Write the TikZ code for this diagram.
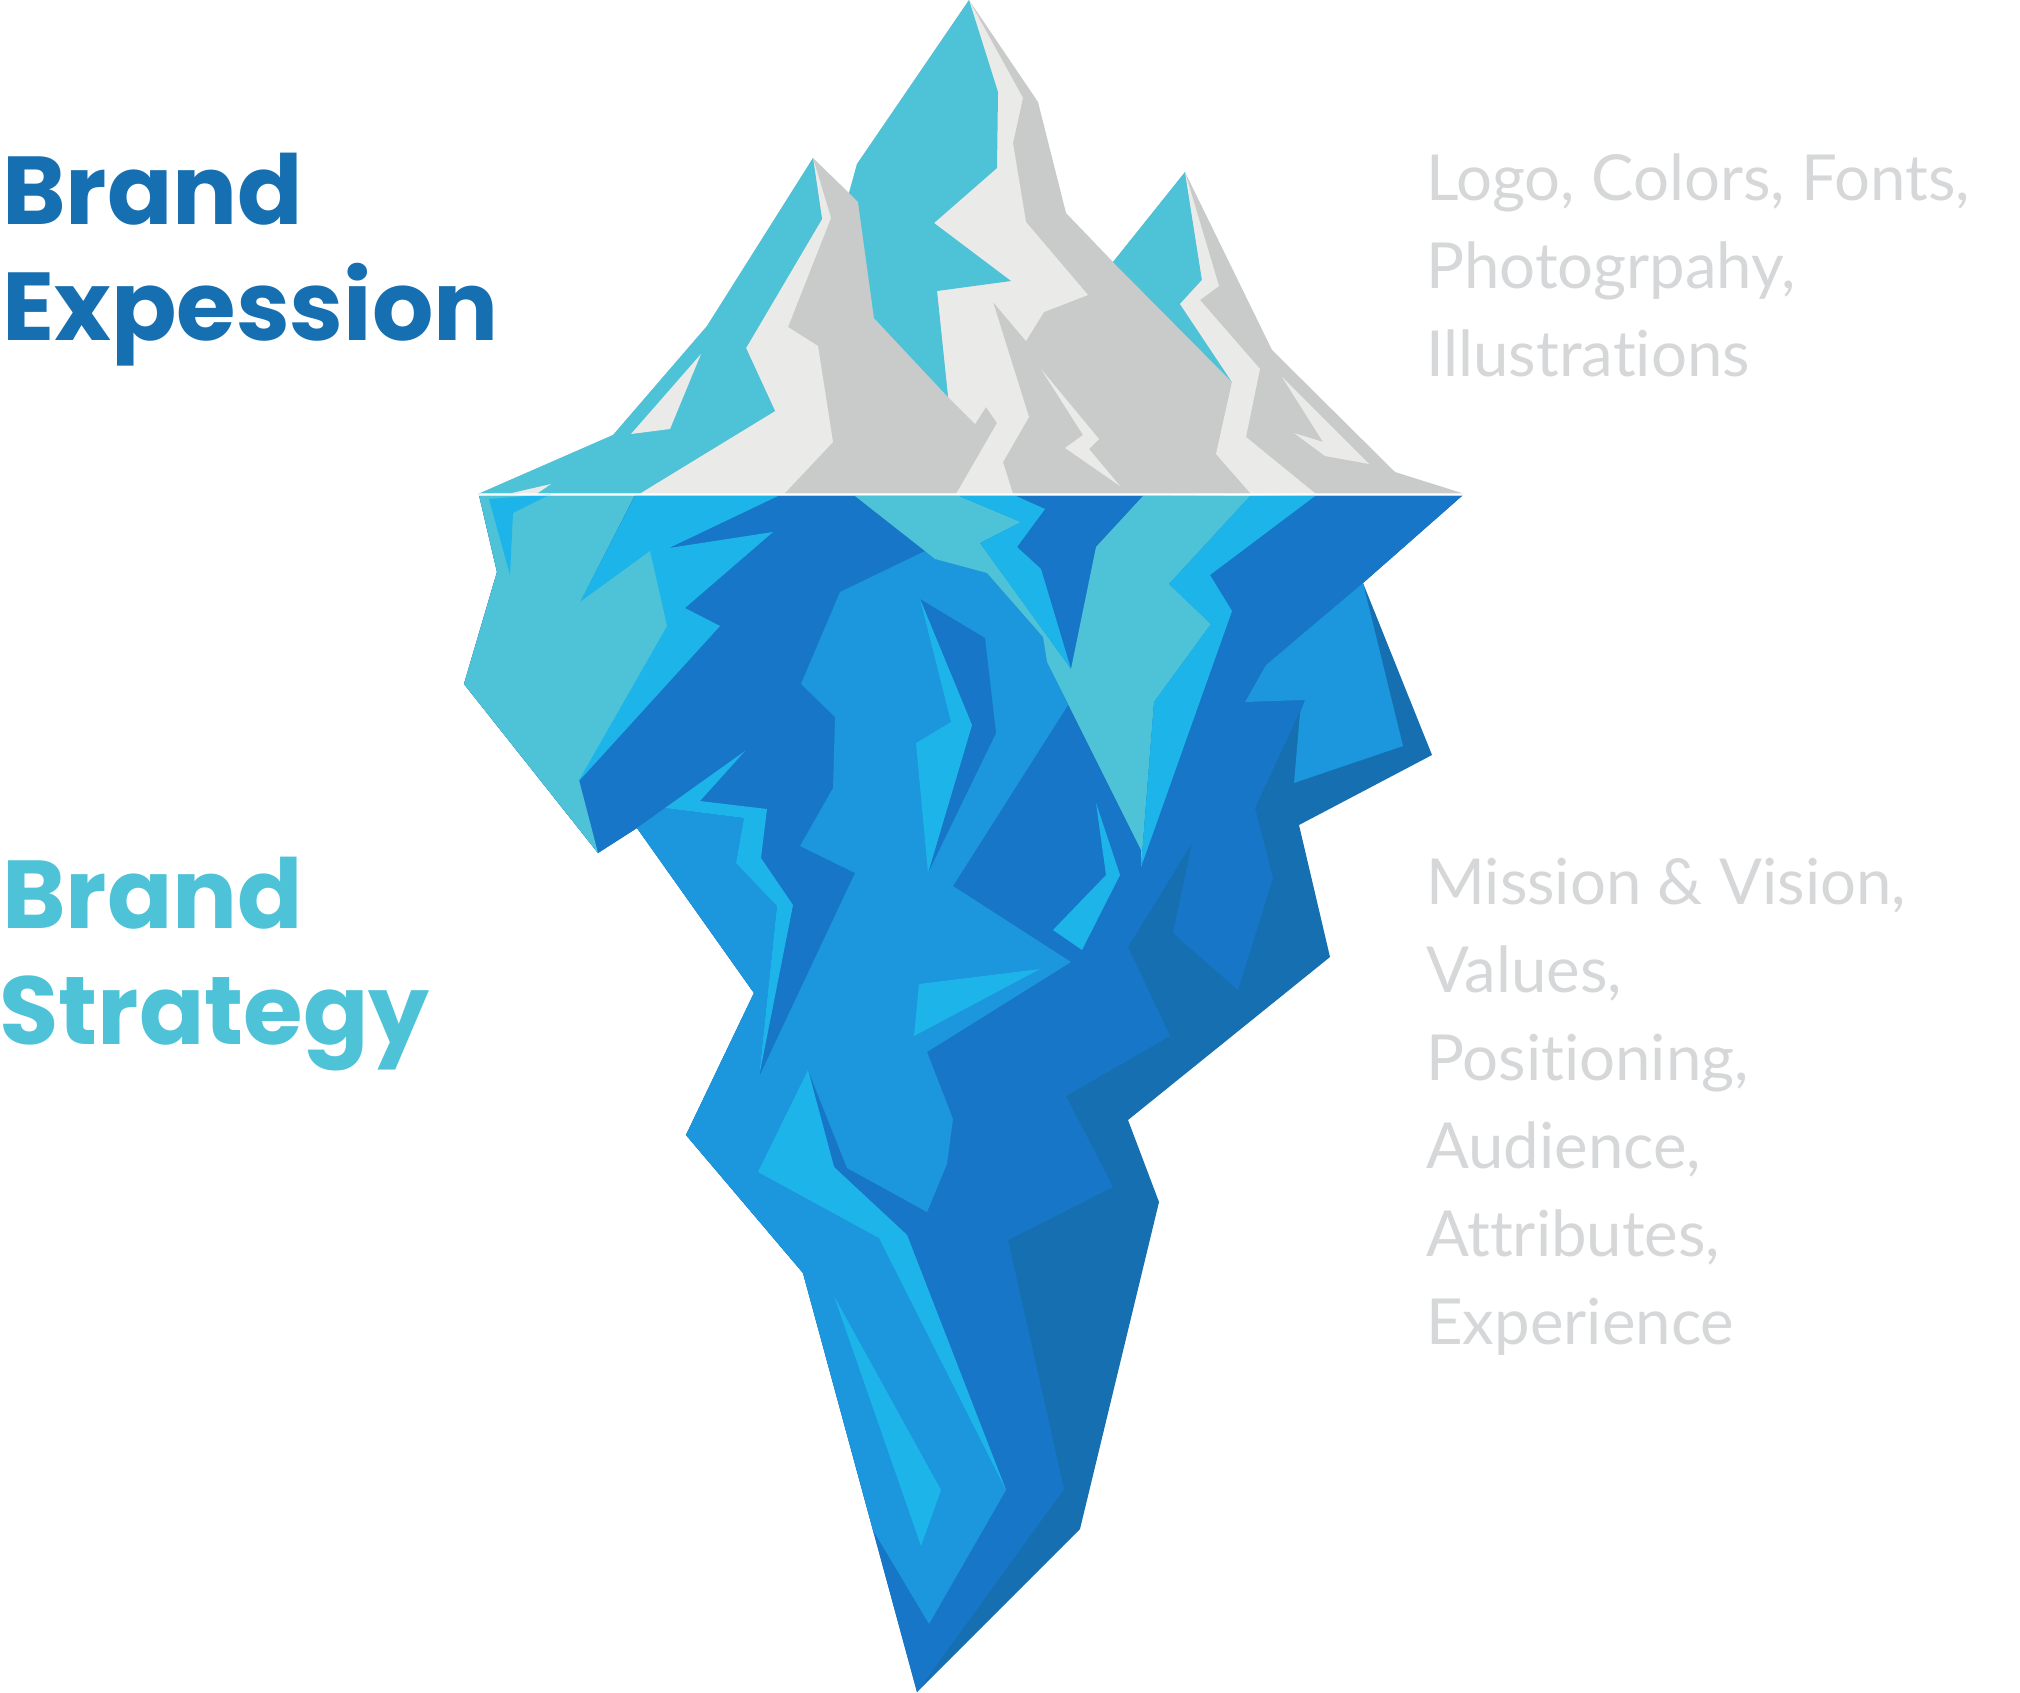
\documentclass[tikz,border=0pt]{standalone}
\usepackage{fontspec}
\setmainfont{Lato}[Ligatures=NoCommon]
\newfontfamily\headfont{Poppins Bold}
\definecolor{gr}{HTML}{C8CBCA}
\definecolor{wh}{HTML}{EAEAE8}
\definecolor{te}{HTML}{4EC3D7}
\definecolor{sh}{HTML}{166FB0}
\definecolor{ma}{HTML}{1776C7}
\definecolor{mi}{HTML}{1C96DC}
\definecolor{br}{HTML}{1DB4EA}
\definecolor{tx}{HTML}{D5D7D8}
\tikzset{
 hd/.style={anchor=base west,inner sep=0pt,font=\headfont\fontsize{96.5}{97}\selectfont},
 ld/.style={anchor=base west,inner sep=0pt,text=tx,font=\fontsize{63.5}{64}\selectfont}}
\begin{document}
\begin{tikzpicture}[x=1pt,y=-1pt]
\useasboundingbox (0,0) rectangle (2020,1692);
% above water
\fill[gr] (478,494)--(613,435)--(707,326)--(813,158)--(849,193)--(857,164)--(969,0)--(1038,102)--(1066,213)--(1113,262)--(1185,172)--(1272,350)--(1395,472)--(1465,494)--cycle;
\fill[wh] (969,0)--(1023,98)--(1013,143)--(1026,222)--(1088,295)--(1044,312)--(1026,341)--(993,302)--(1029,417)--(1003,462)--(1013,494)--(956,494)--(997,423)--(986,407)--(975,424)--(948,397)--(937,291)--(934,223)--cycle;
\fill[te] (969,0)--(998,92)--(997,168)--(934,223)--(1011,281)--(937,291)--(948,397)--(874,318)--(858,202)--(849,193)--(857,164)--cycle;
\fill[wh] (813,158)--(831,218)--(788,327)--(818,346)--(833,442)--(784,494)--(639,494)--(775,411)--(746,348)--(822,219)--cycle;
\fill[te] (478,494)--(613,435)--(707,326)--(813,158)--(822,219)--(746,348)--(775,411)--(639,494)--cycle;
\fill[wh] (701,354)--(670,429)--(631,434)--cycle;
\fill[te] (1113,262)--(1185,172)--(1202,280)--(1180,304)--(1232,382)--cycle;
\fill[wh] (1185,172)--(1219,286)--(1200,300)--(1260,369)--(1246,437)--(1316,494)--(1251,494)--(1216,454)--(1232,382)--(1180,304)--(1202,280)--cycle;
\fill[wh] (1041,369)--(1099,439)--(1089,449)--(1120,486)--(1065,448)--(1083,435)--cycle;
\fill[wh] (1282,377)--(1369,464)--(1325,456)--(1294,433)--(1323,442)--cycle;
\fill[wh] (512,493)--(551,484)--(535,495)--cycle;
% below water
\fill[sh] (479,495)--(497,572)--(464,684)--(598,853)--(637,828)--(754,993)--(686,1135)--(803,1273)--(917,1692)--(1080,1529)--(1159,1202)--(1128,1120)--(1330,957)--(1299,825)--(1432,755)--(1363,583)--(1463,495)--cycle;
\fill[ma] (479,495)--(1463,495)--(1363,583)--(1266,665)--(1245,702)--(1305,700)--(1255,808)--(1273,878)--(1238,990)--(1173,933)--(1192,843)--(1128,947)--(1170,1036)--(1066,1096)--(1113,1187)--(1008,1240)--(1064,1489)--(917,1692)--(803,1273)--(686,1135)--(754,993)--(637,828)--(598,853)--(464,684)--(497,572)--cycle;
\fill[mi] (1363,583)--(1403,746)--(1294,783)--(1300,713)--(1305,700)--(1245,702)--(1266,665)--cycle;
\fill[mi] (840,592)--(925,551)--(935,559)--(987,573)--(1043,637)--(1047,662)--(1068,705)--(953,886)--(1071,962)--(927,1052)--(953,1119)--(947,1164)--(927,1212)--(847,1168)--(808,1070)--(834,1167)--(907,1235)--(1006,1490)--(929,1624)--(873,1530)--(803,1273)--(686,1135)--(754,993)--(637,828)--(665,808)--(744,818)--(736,863)--(777,906)--(759,1077)--(855,873)--(800,846)--(833,788)--(835,717)--(801,684)--cycle;
\fill[br] (745,751)--(700,801)--(767,809)--(761,858)--(793,905)--(759,1077)--(777,906)--(736,863)--(744,818)--(665,808)--cycle;
\fill[ma] (920,599)--(985,638)--(996,733)--(928,873)--(972,725)--cycle;
\fill[br] (920,599)--(972,725)--(928,873)--(916,743)--(951,722)--cycle;
\fill[br] (1096,803)--(1120,875)--(1082,950)--(1053,930)--(1106,875)--cycle;
\fill[br] (919,984)--(1040,969)--(914,1036)--cycle;
\fill[br] (808,1070)--(834,1167)--(907,1235)--(1006,1490)--(879,1238)--(758,1172)--cycle;
\fill[br] (834,1296)--(941,1490)--(921,1546)--cycle;
\fill[br] (635,496)--(778,496)--(669,548)--(773,532)--(685,608)--(720,626)--(579,781)--(580,602)--cycle;
\fill[te] (479,495)--(635,495)--(580,602)--(650,551)--(667,626)--(579,780)--(598,853)--(464,684)--(497,572)--cycle;
\fill[br] (489,499)--(551,494)--(513,513)--(510,575)--cycle;
\fill[te] (855,496)--(925,551)--(935,559)--(987,573)--(1043,637)--(1047,662)--(1141,850)--(1141,867)--(1154,702)--(1211,624)--(1169,584)--(1251,495)--(1143,496)--(1096,547)--(1071,669)--(980,543)--(1021,522)--(959,496)--cycle;
\fill[br] (1251,495)--(1315,496)--(1210,575)--(1232,611)--(1141,867)--(1154,702)--(1211,624)--(1169,584)--cycle;
\fill[br] (959,496)--(1016,496)--(1045,509)--(1017,547)--(1041,569)--(1071,669)--(980,543)--(1021,522)--cycle;
\fill[white,opacity=.7] (479,492.5) rectangle (1465,495.5);
% text
\node[hd,text=sh] (e1) at (2,224) {Brand};
\node[hd,text=sh] (e2) at (2,340) {Expession};
\node[hd,text=te] (s1) at (2,928) {Brand};
\node[hd,text=te] (s2) at (-1,1044) {Strategy};
\node[ld] (l1) at (1426,200) {Logo, Colors, Fonts,};
\node[ld] (l2) at (1426,288) {Photogrpahy,};
\node[ld] (l3) at (1426,376) {Illustrations};
\node[ld] (m1) at (1426,904) {Mission \& Vision,};
\node[ld] (m2) at (1426,992) {Values,};
\node[ld] (m3) at (1426,1080) {Positioning,};
\node[ld] (m4) at (1426,1168) {Audience,};
\node[ld] (m5) at (1426,1256) {Attributes,};
\node[ld] (m6) at (1426,1344) {Experience};
\end{tikzpicture}
\end{document}
